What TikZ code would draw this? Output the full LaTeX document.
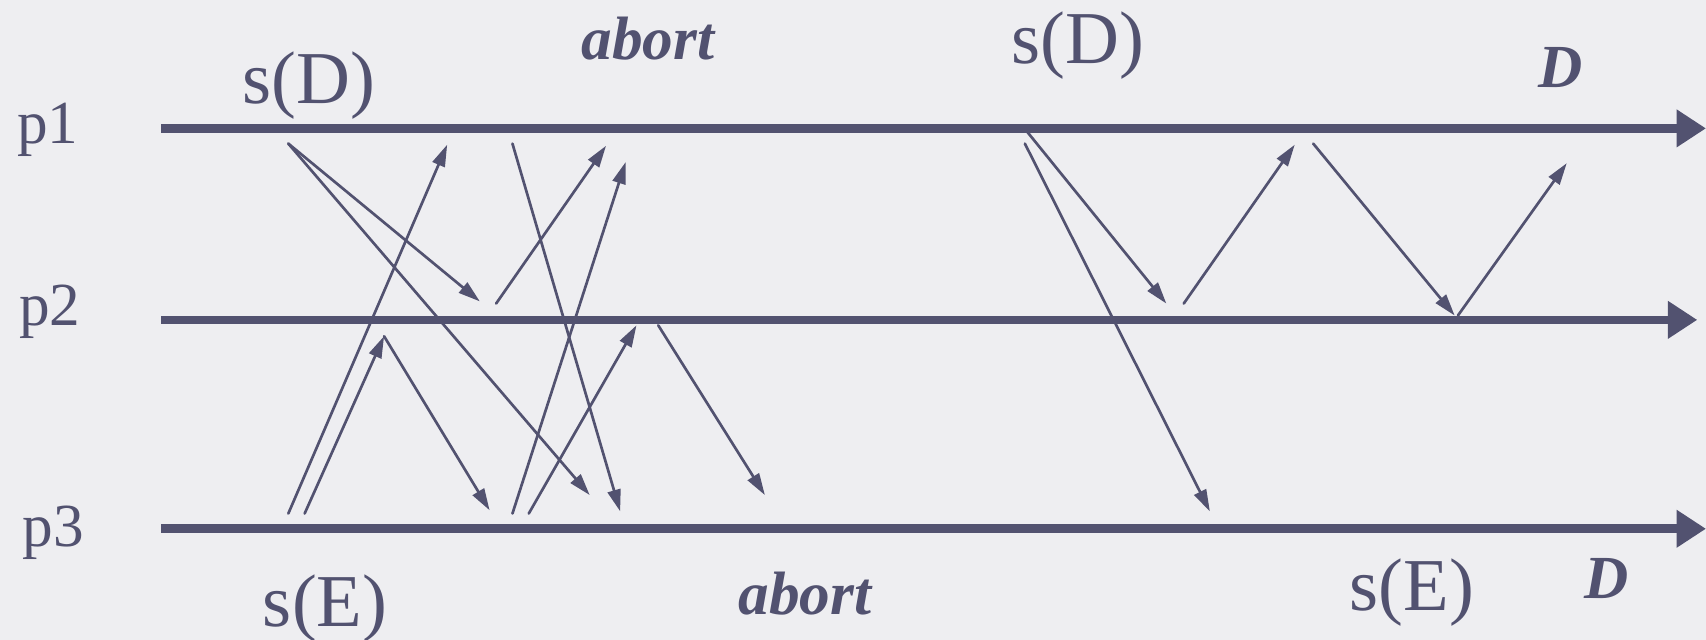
\documentclass[tikz,border=0pt]{standalone}
\usepackage{fontspec}
\setmainfont{Liberation Serif}
\usetikzlibrary{arrows.meta}
\definecolor{ink}{HTML}{525270}
\definecolor{paper}{HTML}{EEEEF1}

\begin{document}
\begin{tikzpicture}[x=0.01cm, y=-0.01cm, line join=round, line cap=round, >={Triangle[length=2mm,width=1.2mm]}]
			\tikzset{every node/.style={inner sep=0pt, anchor=base west, text=ink},
				proc/.style={draw=ink, line width=0.08cm, line cap=butt, -{Triangle[length=2.7mm,width=3.3mm]}},
				msg/.style={draw=ink, line width=0.7pt, ->},
				lbl/.style={font=\fontsize{16}{16}\selectfont},
				sig/.style={font=\fontsize{19.5}{19.5}\selectfont},
				ev/.style={font=\fontsize{16}{16}\selectfont\bfseries\itshape}}
			\fill[paper] (0,0) rectangle (1568,588);
			\useasboundingbox (0,0) rectangle (1568,588);
			
			\path 
			(148,118) coordinate (s1) (1568,118) coordinate (e1)
			(148,294) coordinate (s2) (1560,294) coordinate (e2)
			(148,486) coordinate (s3) (1568,486) coordinate (e3)
			;
			\foreach \i in {1,2,3} \draw[proc] (s\i)--(e\i);
			
			\node[lbl] (p1) at (15,132) {p1};
			\node[lbl] (p2) at (17,299) {p2};
			\node[lbl] (p3) at (20,502) {p3};
			
			\path 
			(265,132) coordinate (A) (441,277) coordinate (B) (542,455) coordinate (C)
			(265,472) coordinate (D) (411,133) coordinate (E)
			(280,472) coordinate (F) (353,309) coordinate (G) (450,469) coordinate (H)
			(456,279) coordinate (I) (557,134) coordinate (J)
			(471,132) coordinate (K) (570,470) coordinate (L)
			(471,472) coordinate (M) (575,149) coordinate (N)
			(486,472) coordinate (O) (585,299) coordinate (P)
			(605,299) coordinate (Q) (703,455) coordinate (R)
			(944,121) coordinate (S) (1072,279) coordinate (T)
			(942,132) coordinate (U) (1112,470) coordinate (V)
			(1088,279) coordinate (W) (1190,133) coordinate (X)
			(1207,132) coordinate (Y) (1337,290) coordinate (Z)
			(1340,290) coordinate (Z') (1440,150) coordinate (Z'')
			;
			\foreach \a/\b in {A/B,A/C,D/E,F/G,G/H,I/J,K/L,M/N,O/P,Q/R,S/T,U/V,W/X,Y/Z,Z'/Z''}
				\draw[msg] (\a)--(\b);
			
			\node[sig] (sd1) at (222,95) {s(D)};
			\node[ev] (ab1) at (534,55) {abort};
			\node[sig] (sd2) at (929,58) {s(D)};
			\node[ev] (dl1) at (1413,80) {D};
			\node[sig] (se1) at (241,576) {s(E)};
			\node[ev] (ab2) at (678,565) {abort};
			\node[sig] (se2) at (1240,561) {s(E)};
			\node[ev] (dl2) at (1456,550) {D};
		\end{tikzpicture}
\end{document}
